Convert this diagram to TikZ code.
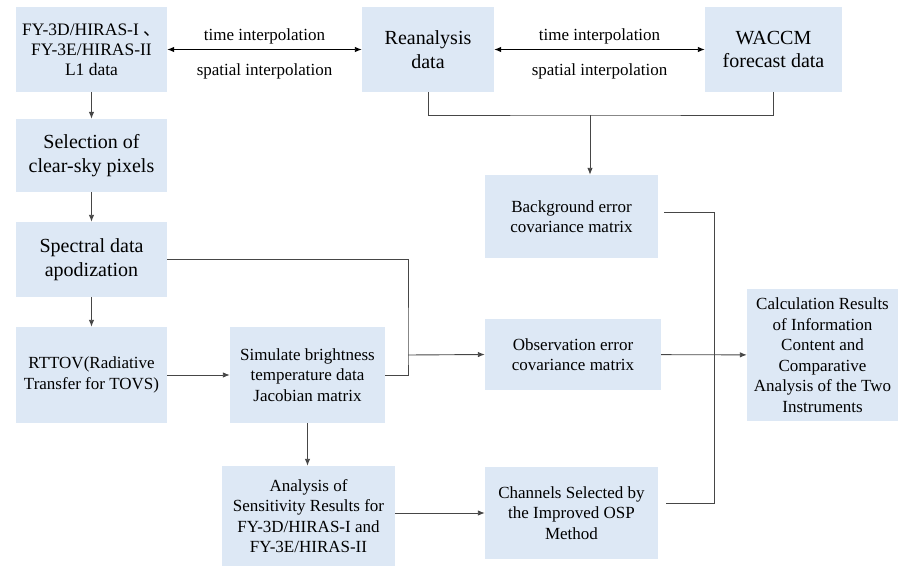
\documentclass[tikz,border=0pt]{standalone}
\usepackage{fontspec}
\setmainfont{Liberation Serif}
\newfontfamily\cjkfont{Noto Sans CJK SC}
\usetikzlibrary{arrows.meta, positioning, calc}
\definecolor{boxblue}{RGB}{221,232,245}
\definecolor{linegray}{RGB}{70,70,70}
\tikzset{
  blk/.style={rectangle, fill=boxblue, draw=none, align=center,
    inner sep=2pt, font=\fontsize{17}{20.5}\selectfont},
  blkL/.style={blk, font=\fontsize{20}{23.5}\selectfont},
  arr/.style={-{Latex[length=7pt,width=5.5pt]}, line width=0.9pt, draw=linegray},
  arrD/.style={{Latex[length=7pt,width=5.5pt]}-{Latex[length=7pt,width=5.5pt]},
    line width=0.9pt, draw=black},
  ln/.style={line width=0.9pt, draw=linegray},
  lbl/.style={font=\fontsize{17}{20}\selectfont, inner sep=0pt},
}

\begin{document}
\begin{tikzpicture}[x=1pt, y=-1pt]
  \useasboundingbox (0,0) rectangle (899,567);

  % top row
  \node[blk, minimum width=151pt, minimum height=85pt,
        font=\fontsize{17.5}{20}\selectfont] (fy) at (91.5,49.5)
        {FY-3D/HIRAS-I {\cjkfont 、}\\FY-3E/HIRAS-II\\L1 data};
  \node[blkL, minimum width=132pt, minimum height=85pt] (rean) at (428,49.5)
        {Reanalysis\\data};
  \node[blkL, minimum width=137pt, minimum height=85pt] (waccm) at (773.5,49.5)
        {WACCM\\forecast data};

  % left column
  \node[blkL, minimum width=151pt, minimum height=73pt] (sel) at (91.5,155.5)
        {Selection of\\clear-sky pixels};
  \node[blkL, minimum width=151pt, minimum height=75pt] (spec) at (91.5,259.5)
        {Spectral data\\apodization};
  \node[blk, minimum width=151pt, minimum height=96pt] (rttov) at (91.5,375)
        {RTTOV(Radiative\\Transfer for TOVS)};
  \node[blk, minimum width=155pt, minimum height=96pt] (sim) at (307.5,375)
        {Simulate brightness\\temperature data\\Jacobian matrix};
  \node[blk, minimum width=173pt, minimum height=100pt] (ana) at (308.5,516)
        {Analysis of\\Sensitivity Results for\\FY-3D/HIRAS-I and\\FY-3E/HIRAS-II};

  % middle column
  \node[blk, minimum width=173pt, minimum height=83pt] (bg) at (571.5,216.5)
        {Background error\\covariance matrix};
  \node[blk, minimum width=176pt, minimum height=71pt] (obs) at (573,354.5)
        {Observation error\\covariance matrix};
  \node[blk, minimum width=173pt, minimum height=92pt] (chan) at (571.5,513)
        {Channels Selected by\\the Improved OSP\\Method};
  \node[blk, minimum width=151pt, minimum height=132pt] (calc) at (822.5,355)
        {Calculation Results\\of Information\\Content and\\Comparative\\Analysis of the Two\\Instruments};

  \coordinate (top) at (590,115);
  \coordinate (jn)  at (408,355);
  \coordinate (rb)  at (714,355);

  % interpolation links
  \draw[arrD] (fy) -- (rean)
    node[lbl, midway, above=5pt] {time interpolation}
    node[lbl, midway, below=14pt] {spatial interpolation};
  \draw[arrD] (rean) -- (waccm)
    node[lbl, midway, above=5pt] {time interpolation}
    node[lbl, midway, below=14pt] {spatial interpolation};

  \draw[arr] (fy)   -- (sel);
  \draw[arr] (sel)  -- (spec);
  \draw[arr] (spec) -- (rttov);
  \draw[arr] (rttov) -- (sim);
  \draw[arr] (sim.south) -- (sim.south |- ana.north);
  \draw[arr] (ana.east |- chan.west) -- (chan.west);

  \draw[ln] (rean.south) |- (top) -| (waccm.south);
  \draw[arr] (top) -- (top |- bg.north);

  \draw[ln] (spec.east) -| (jn) |- (sim.east);
  \draw[arr] (jn) -- (obs.west);
  \draw[arr] (obs) -- (calc);

  \draw[ln] ([xshift=6pt,yshift=4.5pt]bg.east) -| (rb)
            |- ([xshift=8pt,yshift=10pt]chan.east);
\end{tikzpicture}
\end{document}
